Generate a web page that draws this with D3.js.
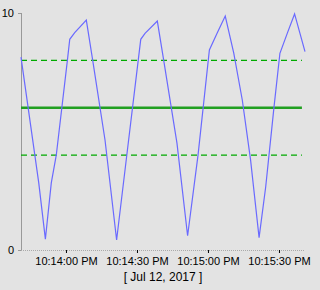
<!DOCTYPE html>
<html>
<head>
<meta charset="utf-8">
<script src="https://cdn.jsdelivr.net/npm/d3@7"></script>
<style>
  body { margin: 0; background: #e3e3e3; }
  svg { display: block; font-family: "Liberation Sans", Arial, sans-serif; }
</style>
</head>
<body>
<div id="chart"></div>
<script>
// readings: seconds after start, value
var startTime = "2017-07-12 22:13:41";
var endSecs = 120;
var secs = [0, 7.5, 10.3, 12.8, 14.9, 19.6, 20.6, 22.7, 27.6, 30.3, 35.5, 40.4, 44.7, 50.6, 52.4, 57.6,
            60.3, 65.9, 70.4, 74.8, 79.6, 82.8, 86.3, 89.9, 93.5, 97.0, 100.6, 103.4, 106.9, 109.4, 112.5, 115.6, 120];
var values = [8.14, 2.83, 0.46, 2.83, 4.0, 8.0, 8.89, 9.17, 9.7, 8.0, 4.64, 0.42, 4.0, 8.89, 9.14, 9.66,
              8.0, 4.51, 0.6, 4.0, 8.44, 9.14, 9.87, 8.31, 6.33, 3.8, 0.52, 2.67, 6.03, 8.3, 9.14, 9.96, 8.37];

// limit lines
var limitSecs = [0, 118.7];
var upperLimit = 8;
var target = 6;
var lowerLimit = 4;

var yTicks = [0, 10];
var dateLabel = "[ Jul 12, 2017 ]";

var width = 320, height = 290;
var margin = {top: 13, right: 15, bottom: 40, left: 21};
var w = width - margin.left - margin.right;
var h = height - margin.top - margin.bottom;

var t0 = d3.timeParse("%Y-%m-%d %H:%M:%S")(startTime);
function at(s) { return new Date(t0.getTime() + s * 1000); }

var svg = d3.select("#chart").append("svg")
	.attr("width", width)
	.attr("height", height);
var g = svg.append("g")
	.attr("transform", "translate(" + margin.left + "," + margin.top + ")");

var x = d3.scaleTime()
	.domain([at(0), at(endSecs)])
	.range([0, w]);
var y = d3.scaleLinear()
	.domain([0, 10])
	.range([h, 0]);

// y axis
var yAxis = g.append("g")
	.call(d3.axisLeft(y).tickValues(yTicks).tickSize(3).tickPadding(4).tickFormat(d3.format("d")));
yAxis.select(".domain").attr("stroke", "#999").attr("d", "M0.5,0V" + h);
yAxis.selectAll(".tick line").attr("stroke", "#999");
yAxis.selectAll("text").style("font-size", "11px").attr("fill", "#000");

// x axis
var xAxis = g.append("g")
	.attr("transform", "translate(0," + h + ")")
	.call(d3.axisBottom(x).ticks(d3.timeSecond.every(30)).tickSize(3).tickPadding(4)
		.tickFormat(d3.timeFormat("%I:%M:%S %p")));
xAxis.select(".domain").attr("stroke", "#aaa").attr("stroke-dasharray", "1,1").attr("d", "M0,0.5H" + w);
xAxis.selectAll(".tick line").attr("stroke", "#000");
xAxis.selectAll("text").style("font-size", "11px").attr("fill", "#000");

g.append("text")
	.attr("x", w / 2)
	.attr("y", h + 31)
	.attr("text-anchor", "middle")
	.style("font-size", "12px")
	.text(dateLabel);

var line = d3.line()
	.x(function(d) { return x(at(d[0])); })
	.y(function(d) { return y(d[1]); });

function limit(v) { return limitSecs.map(function(s) { return [s, v]; }); }

g.append("path")
	.attr("d", line(limit(target)))
	.attr("fill", "none")
	.attr("stroke", "#22a022")
	.attr("stroke-width", 2.5);

[upperLimit, lowerLimit].forEach(function(v) {
	g.append("path")
		.attr("d", line(limit(v)))
		.attr("fill", "none")
		.attr("stroke", "#00aa00")
		.attr("stroke-width", 1.2)
		.attr("stroke-dasharray", "6,4");
});

g.append("path")
	.attr("d", line(d3.zip(secs, values)))
	.attr("fill", "none")
	.attr("stroke", "#6a6aff")
	.attr("stroke-width", 1.2);
</script>
</body>
</html>
